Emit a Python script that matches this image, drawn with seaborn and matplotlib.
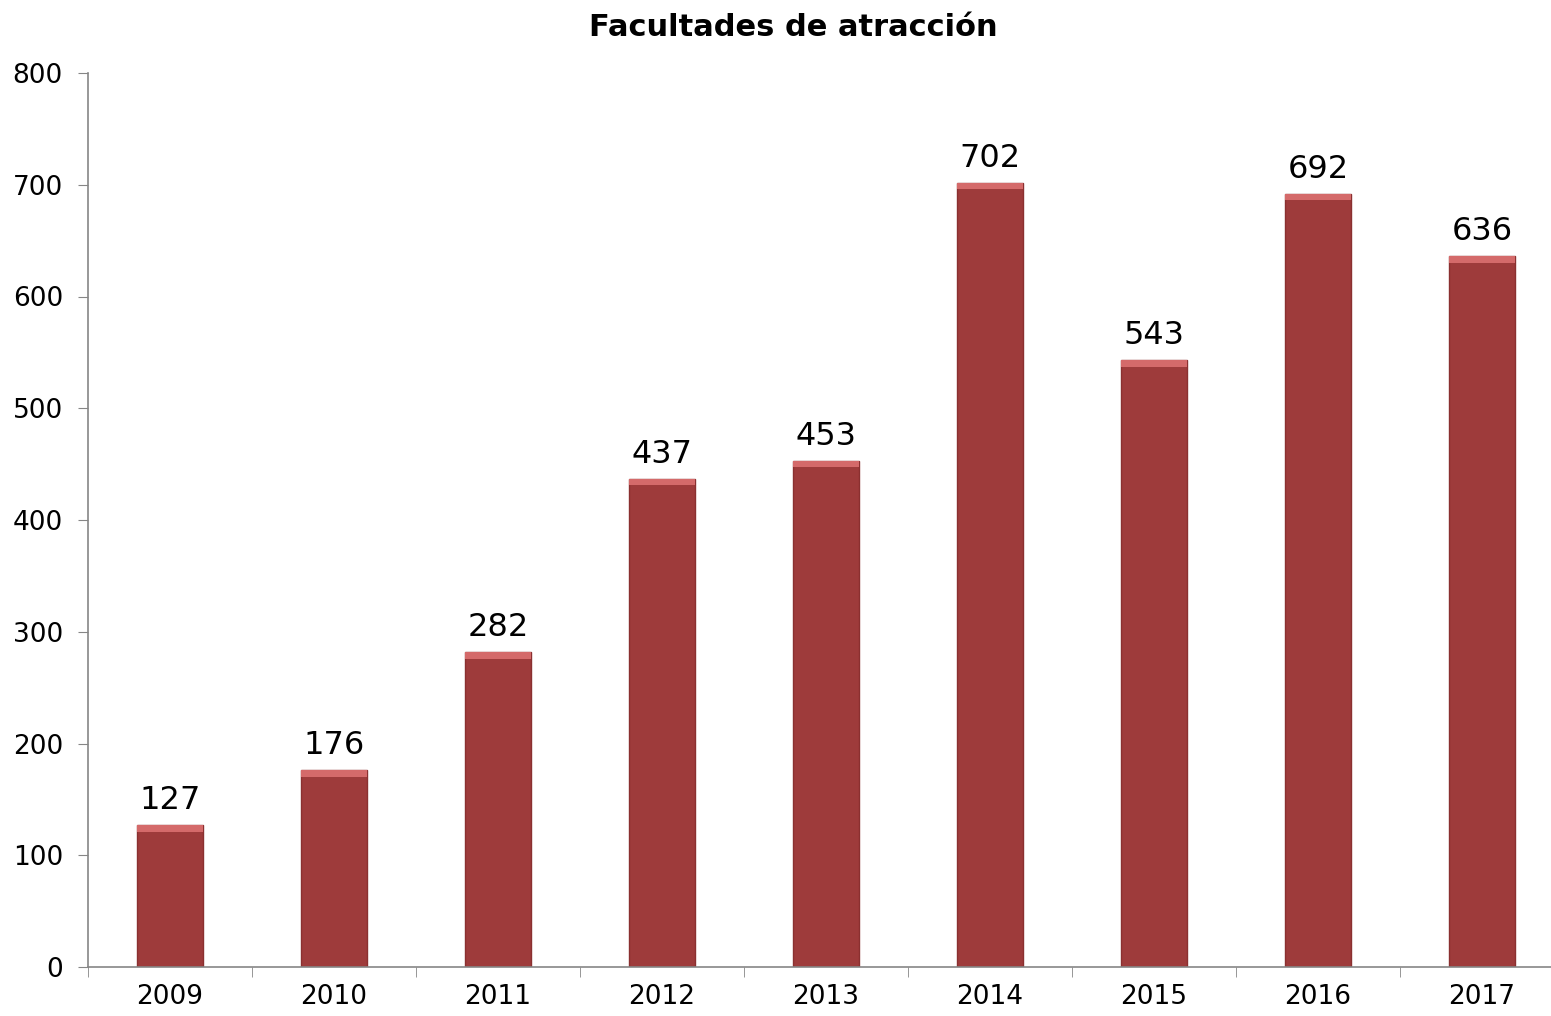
import matplotlib
matplotlib.use('Agg')
import matplotlib.pyplot as plt
import seaborn as sns
import numpy as np
from matplotlib.patches import Rectangle

# Data
years = ['2009', '2010', '2011', '2012', '2013', '2014', '2015', '2016', '2017']
values = [127, 176, 282, 437, 453, 702, 543, 692, 636]

sns.set_style('white')
plt.rcParams['font.family'] = ['DejaVu Sans']

fig = plt.figure(figsize=(15.51, 10.16), dpi=100)
ax = fig.add_axes([88 / 1551, 49 / 1016, 1476 / 1551, 894 / 1016])

sns.barplot(x=years, y=values, color='#9E3B3B', width=0.4, saturation=1,
            edgecolor='#8A3030', linewidth=1, ax=ax)

# top highlight (bevel look)
for p in ax.patches:
    ax.add_patch(Rectangle((p.get_x(), p.get_height() - 6), p.get_width(), 6,
                           facecolor='#D46A6A', edgecolor='none', zorder=3))

for i, v in enumerate(values):
    ax.text(i, v + 8, str(v), ha='center', va='bottom', fontsize=23, color='black')

ax.set_ylim(0, 800)
ax.set_xlim(-0.5, len(years) - 0.5)
ax.set_yticks(range(0, 801, 100))
ax.tick_params(axis='y', labelsize=19, length=7, color='#868686', direction='out',
               left=True, pad=11, labelcolor='black')
ax.tick_params(axis='x', which='major', labelsize=19, length=0, pad=12, labelcolor='black')
ax.set_xticks(np.arange(-0.5, len(years), 1), minor=True)
ax.tick_params(axis='x', which='minor', length=7, color='#868686', direction='out', bottom=True)

for s in ['top', 'right']:
    ax.spines[s].set_visible(False)
for s in ['left', 'bottom']:
    ax.spines[s].set_color('#868686')
    ax.spines[s].set_linewidth(1.2)

fig.text(793 / 1551, 1 - 27 / 1016, 'Facultades de atracción', ha='center', va='center',
         fontsize=22, fontweight='bold', color='black')

fig.savefig('out.png', dpi=100)
